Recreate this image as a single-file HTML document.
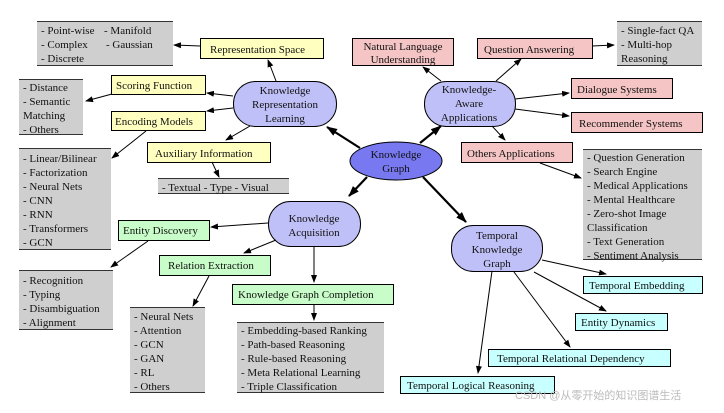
<!DOCTYPE html><html><head><meta charset="utf-8"><style>
body{margin:0;background:#fff}
svg text{font-family:"Liberation Serif",serif;font-size:11px;fill:#111}
</style></head><body>
<svg width="724" height="408" xmlns="http://www.w3.org/2000/svg">
<defs>
<marker id="a" markerWidth="8" markerHeight="6" refX="7" refY="3" orient="auto" markerUnits="userSpaceOnUse"><path d="M0,0L8,3L0,6z" fill="#000"/></marker>
<marker id="b" markerWidth="11" markerHeight="8" refX="10" refY="4" orient="auto" markerUnits="userSpaceOnUse"><path d="M0,0L11,4L0,8z" fill="#000"/></marker>
</defs>
<g fill="#cfcfcf">
<rect x="37" y="21" width="136" height="45"/><rect x="19" y="79" width="64" height="56"/>
<rect x="19" y="148" width="92" height="102"/><rect x="158" y="178" width="131" height="16"/>
<rect x="617" y="21" width="85" height="45"/><rect x="583" y="149" width="119" height="111"/>
<rect x="19" y="270" width="94" height="60"/><rect x="130" y="307" width="75" height="86"/>
<rect x="237" y="322" width="147" height="71"/>
</g>
<g stroke="#333" stroke-width="1">
<path d="M37 21.5h136M37 65.5h136M19 79.5h64M19 134.5h64M19 148.5h92M19 249.5h92M158 178.5h131M158 193.5h131M617 21.5h85M617 65.5h85M583 149.5h119M583 259.5h119M19 270.5h94M19 329.5h94M130 307.5h75M130 392.5h75M237 322.5h147M237 392.5h147"/>
</g>
<g stroke="#000" stroke-width="1" fill="#ffffc0">
<rect x="200.5" y="38.5" width="123" height="20"/><rect x="111.5" y="75.5" width="94" height="19"/>
<rect x="111.5" y="111.5" width="94" height="19"/><rect x="147.5" y="142.5" width="123" height="20"/>
</g>
<g stroke="#000" fill="#f5c4c4">
<rect x="352.5" y="38.5" width="101" height="27"/><rect x="477.5" y="38.5" width="115" height="20"/>
<rect x="571.5" y="78.5" width="101" height="20"/><rect x="571.5" y="112.5" width="131" height="20"/>
<rect x="461.5" y="142.5" width="111" height="20"/>
</g>
<g stroke="#000" fill="#c8fcc8">
<rect x="118.5" y="220.5" width="91" height="20"/><rect x="159.5" y="255.5" width="111" height="20"/>
<rect x="232.5" y="284.5" width="161" height="20"/>
</g>
<g stroke="#000" fill="#c8ffff">
<rect x="583.5" y="276.5" width="119" height="17"/><rect x="575.5" y="313.5" width="92" height="17"/>
<rect x="488.5" y="349.5" width="182" height="17"/><rect x="400.5" y="376.5" width="154" height="17"/>
</g>
<g stroke="#000" fill="#c0c0f8">
<rect x="233.5" y="81.5" width="103" height="45" rx="22"/><rect x="424.5" y="81.5" width="91" height="45" rx="22"/>
<rect x="268.5" y="201.5" width="92" height="45" rx="22"/><rect x="451.5" y="225.5" width="91" height="46" rx="22"/>
</g>
<ellipse cx="396" cy="161" rx="46" ry="19" fill="#7878f0" stroke="#000"/>
<g stroke="#000" stroke-width="2.2" fill="none" marker-end="url(#b)">
<path d="M360 148L327 127"/><path d="M420 143L441 126"/><path d="M367 177L349 196"/><path d="M423 177L466 222"/>
</g>
<g stroke="#000" stroke-width="1" fill="none" marker-end="url(#a)">
<path d="M200 46L174 45"/><path d="M276 81L268 60"/><path d="M233 96L207 93"/><path d="M233 108L207 111"/>
<path d="M112 94L86 101"/><path d="M146 131L112 158"/><path d="M250 126L226 140"/><path d="M212 162L219 177"/>
<path d="M441 81L423 67"/><path d="M496 81L521 59"/><path d="M592 46L614 45"/><path d="M515 99L569 93"/>
<path d="M515 109L569 116"/><path d="M492 126L505 140"/><path d="M540 163L581 178"/>
<path d="M268 223L211 227"/><path d="M276 240L244 253"/><path d="M314 246L314 282"/>
<path d="M148 241L111 267"/><path d="M209 276L193 306"/><path d="M314 305L314 320"/>
<path d="M542 260L606 274"/><path d="M534 272L606 311"/><path d="M514 272L570 347"/><path d="M492 271L478 373"/>
</g>
<g>
<text x="41" y="34">- Point-wise</text><text x="104" y="34">- Manifold</text>
<text x="41" y="48">- Complex</text><text x="106" y="48">- Gaussian</text><text x="41" y="62">- Discrete</text>
<text x="210" y="53">Representation Space</text>
<text x="116" y="89">Scoring Function</text><text x="115" y="125">Encoding Models</text>
<text x="23" y="91">- Distance</text><text x="23" y="105">- Semantic</text><text x="23" y="119">Matching</text><text x="23" y="133">- Others</text>
<text x="23" y="162">- Linear/Bilinear</text><text x="23" y="176">- Factorization</text><text x="23" y="190">- Neural Nets</text><text x="23" y="204">- CNN</text><text x="23" y="218">- RNN</text><text x="23" y="232">- Transformers</text><text x="23" y="246">- GCN</text>
<text x="155" y="157">Auxiliary Information</text><text x="162" y="191">- Textual - Type - Visual</text>
<text x="285" y="94" text-anchor="middle">Knowledge</text><text x="285" y="108" text-anchor="middle">Representation</text><text x="285" y="122" text-anchor="middle">Learning</text>
<text x="396" y="158" text-anchor="middle">Knowledge</text><text x="396" y="172" text-anchor="middle">Graph</text>
<text x="403" y="50" text-anchor="middle">Natural Language</text><text x="403" y="63" text-anchor="middle">Understanding</text>
<text x="484" y="53">Question Answering</text>
<text x="621" y="34">- Single-fact QA</text><text x="621" y="48">- Multi-hop</text><text x="621" y="62">Reasoning</text>
<text x="469" y="93" text-anchor="middle">Knowledge-</text><text x="469" y="107" text-anchor="middle">Aware</text><text x="469" y="121" text-anchor="middle">Applications</text>
<text x="577" y="93">Dialogue Systems</text><text x="579" y="127">Recommender Systems</text>
<text x="467" y="157">Others Applications</text>
<text x="587" y="161">- Question Generation</text><text x="587" y="175">- Search Engine</text><text x="587" y="189">- Medical Applications</text><text x="587" y="203">- Mental Healthcare</text><text x="587" y="217">- Zero-shot Image</text><text x="587" y="231">Classification</text><text x="587" y="245">- Text Generation</text><text x="587" y="259">- Sentiment Analysis</text>
<text x="314" y="222" text-anchor="middle">Knowledge</text><text x="314" y="236" text-anchor="middle">Acquisition</text>
<text x="123" y="234">Entity Discovery</text><text x="168" y="269">Relation Extraction</text><text x="238" y="298">Knowledge Graph Completion</text>
<text x="23" y="284">- Recognition</text><text x="23" y="298">- Typing</text><text x="23" y="312">- Disambiguation</text><text x="23" y="326">- Alignment</text>
<text x="134" y="320">- Neural Nets</text><text x="134" y="334">- Attention</text><text x="134" y="348">- GCN</text><text x="134" y="362">- GAN</text><text x="134" y="376">- RL</text><text x="134" y="390">- Others</text>
<text x="241" y="334">- Embedding-based Ranking</text><text x="241" y="348">- Path-based Reasoning</text><text x="241" y="362">- Rule-based Reasoning</text><text x="241" y="376">- Meta Relational Learning</text><text x="241" y="390">- Triple Classification</text>
<text x="497" y="239" text-anchor="middle">Temporal</text><text x="497" y="253" text-anchor="middle">Knowledge</text><text x="497" y="267" text-anchor="middle">Graph</text>
<text x="589" y="289">Temporal Embedding</text><text x="581" y="326">Entity Dynamics</text>
<text x="497" y="362">Temporal Relational Dependency</text><text x="407" y="389">Temporal Logical Reasoning</text>
<text x="515" y="399" style="font-family:'Liberation Sans','Noto Sans CJK SC',sans-serif;font-size:11px;fill:#bbb">CSDN @从零开始的知识图谱生活</text>
</g>
</svg>
</body></html>
